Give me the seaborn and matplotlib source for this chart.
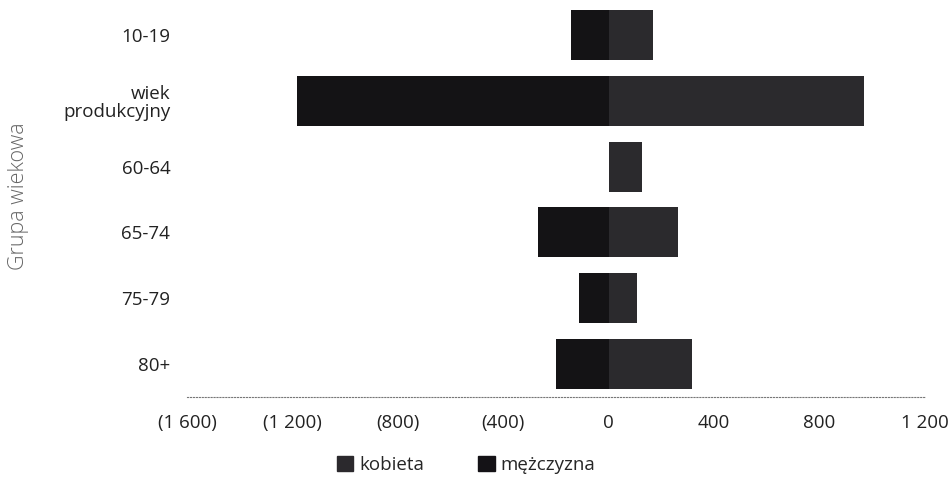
import matplotlib
matplotlib.use("Agg")
import matplotlib.pyplot as plt
import seaborn as sns
import pandas as pd
from matplotlib.ticker import FuncFormatter

# data
grupy = ['10-19', 'wiek\nprodukcyjny', '60-64', '65-74', '75-79', '80+']
kobieta = [167, 967, 125, 262, 106, 315]
mezczyzna = [144, 1184, 0, 269, 114, 201]
xticks = [-1600, -1200, -800, -400, 0, 400, 800, 1200]

_colors = {'kobieta': '#2b292d', 'mężczyzna': '#141216'}

df = pd.DataFrame({
    'grupa': grupy * 2,
    'wartosc': kobieta + [-v for v in mezczyzna],
    'plec': ['kobieta'] * len(grupy) + ['mężczyzna'] * len(grupy),
})

sns.set_theme(style='white')
plt.rcParams['font.family'] = ['Open Sans', 'DejaVu Sans']

fig = plt.figure(figsize=(9.49, 4.79), dpi=100)
ax = fig.add_axes([187 / 949, 1 - 397 / 479, 738 / 949, 395 / 479])

sns.barplot(data=df, y='grupa', x='wartosc', hue='plec', order=grupy,
            hue_order=['kobieta', 'mężczyzna'], palette=_colors,
            dodge=False, orient='h', width=0.76, ax=ax, legend=False,
            linewidth=0)


def fmt(v, pos):
    s = f'{abs(int(v)):,}'.replace(',', ' ')
    return f'({s})' if v < 0 else s


ax.set_xlim(-1600, 1200)
ax.set_ylim(5.5, -0.5)
ax.set_xticks(xticks)
ax.xaxis.set_major_formatter(FuncFormatter(fmt))
ax.tick_params(axis='x', length=0, pad=12, labelsize=13.5, colors='#222222')
ax.tick_params(axis='y', length=0, pad=12, labelsize=13.5, colors='#222222')
for lab in ax.get_yticklabels():
    lab.set_horizontalalignment('right')
    lab.set_multialignment('right')
    lab.set_linespacing(1.0)

for s in ['top', 'right', 'left']:
    ax.spines[s].set_visible(False)
ax.spines['bottom'].set_color('#777777')
ax.spines['bottom'].set_linewidth(0.8)
ax.spines['bottom'].set_linestyle(':')

ax.set_xlabel('')
ax.set_ylabel('')
fig.text(19 / 949, 1 - 196 / 479, 'Grupa wiekowa', rotation=90, ha='center',
         va='center', fontsize=15.5, color='#666666', fontweight='light')

handles = [plt.Rectangle((0, 0), 1, 1, color=_colors[k]) for k in ['kobieta', 'mężczyzna']]
fig.legend(handles, ['kobieta', 'mężczyzna'], loc='center',
           bbox_to_anchor=(466 / 949, 1 - 465 / 479), ncol=2, frameon=False,
           fontsize=13.5, handlelength=0.9, handleheight=0.9,
           handletextpad=0.3, columnspacing=2.9)

fig.savefig('out.png', dpi=100)
